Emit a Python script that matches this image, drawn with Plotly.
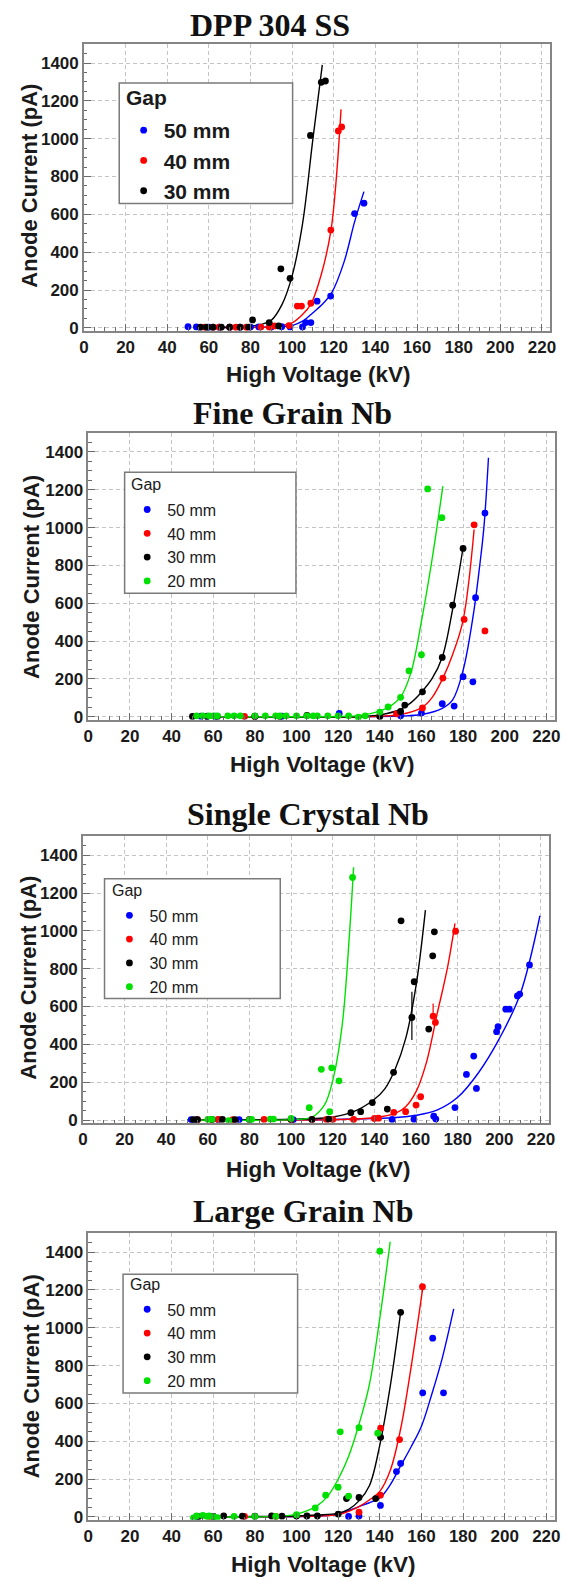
import plotly.graph_objects as go

W, H = 567, 1582

# ---------------- text ----------------
panel_titles = ["DPP 304 SS", "Fine Grain Nb", "Single Crystal Nb", "Large Grain Nb"]
gap_title = "Gap"
gap_names = ["50 mm", "40 mm", "30 mm", "20 mm"]
x_title = "High Voltage (kV)"
y_title = "Anode Current (pA)"
x_tick_vals = [0, 20, 40, 60, 80, 100, 120, 140, 160, 180, 200, 220]
y_tick_vals = [0, 200, 400, 600, 800, 1000, 1200, 1400]

# ---------------- DPP 304 SS ----------------
ss_50_v = [50, 54, 60, 65, 70, 75, 80, 84, 90, 95, 99, 105, 106.5, 109, 112, 118.5, 130, 134.5]
ss_50_i = [6, 5, 3, 3, 3, 3, 4, 5, 5, 6, 5, 5, 28, 28, 141, 168, 604, 659]
ss_40_v = [58, 62, 65, 70, 73, 78, 85, 89, 91.5, 98.5, 102.5, 104.5, 109, 118.6, 122.2, 123.8]
ss_40_i = [3, 3, 3, 3, 3, 3, 4, 4, 10, 12, 115, 115, 130, 517, 1041, 1062]
ss_30_v = [56, 59, 62, 66, 70, 75, 79, 81, 89, 93.5, 94.6, 99, 108.8, 114, 116]
ss_30_i = [3, 3, 3, 3, 3, 3, 4, 42, 28, 10, 312, 262, 1017, 1298, 1305]
ss_50_fit_v = [55, 90, 95, 100, 105, 110, 115, 119, 125, 130, 134.5]
ss_50_fit_i = [2, 4, 6, 12, 35, 80, 130, 185, 350, 560, 720]
ss_40_fit_v = [58, 90, 95, 100, 105, 109, 114, 118.6, 121, 123.5]
ss_40_fit_i = [2, 5, 12, 26, 70, 125, 282, 511, 760, 1155]
ss_30_fit_v = [55, 70, 80, 85, 90, 95, 100, 105, 110, 114.5]
ss_30_fit_i = [2, 4, 10, 18, 40, 120, 275, 550, 1000, 1390]

# ---------------- Fine Grain Nb ----------------
fg_50_v = [54, 57, 61, 80, 93, 120.5, 150, 160, 170, 175.7, 180, 184.7, 186, 190.5]
fg_50_i = [3, 3, 3, 3, 3, 18, 5, 20, 69, 57, 212, 185, 630, 1077]
fg_40_v = [75, 80, 140, 148, 160.5, 170.3, 180.5, 185.3, 190.5]
fg_40_i = [2, 2, 5, 16, 47, 205, 515, 1015, 454]
fg_30_v = [50, 57, 62, 80, 92, 105, 140, 150, 152, 160.5, 170, 175, 180]
fg_30_i = [2, 2, 2, 2, 2, 8, 2, 28, 62, 132, 314, 590, 890]
fg_20_v = [52, 55, 58, 60, 62, 67, 70, 73, 80, 85, 90, 92, 95, 100, 105, 108, 110, 115, 120, 125,
           129.7, 133, 140, 144, 150, 154, 160, 163, 169.8]
fg_20_i = [5, 5, 5, 5, 5, 5, 5, 5, 5, 5, 5, 5, 5, 5, 5, 5, 5, 5, 5, 5,
           -2, 5, 25, 52, 103, 243, 328, 1205, 1053]
fg_50_fit_v = [50, 150, 160, 170, 175, 180, 185, 188, 190, 192.2]
fg_50_fit_i = [1, 4, 12, 45, 90, 245, 545, 800, 1000, 1370]
fg_40_fit_v = [50, 140, 150, 160, 165, 170, 175, 180, 185.3]
fg_40_fit_i = [1, 3, 12, 47, 100, 198, 330, 510, 990]
fg_30_fit_v = [50, 130, 140, 150, 155, 160, 165, 170, 175, 180]
fg_30_fit_i = [1, 2, 10, 40, 75, 130, 200, 315, 570, 895]
fg_20_fit_v = [50, 120, 130, 140, 145, 150, 155, 160, 165, 170.3]
fg_20_fit_i = [1, 2, 6, 30, 55, 105, 235, 505, 825, 1220]

# ---------------- Single Crystal Nb ----------------
sc_50_v = [52, 54.5, 65, 75, 101, 148.5, 159, 168.5, 169.5, 178.7, 184.2, 187.7, 189, 198.7, 199.4,
           203.1, 204.8, 208.7, 209.8, 214.5]
sc_50_i = [2, 2, 2, 2, 2, 3, 4, 20, 5, 66, 241, 338, 167, 467, 493, 586, 586, 656, 666, 820]
sc_40_v = [55, 62, 65, 72, 80, 87, 100, 110, 117, 120, 130, 140, 142, 149.3, 155, 160, 162.2, 168.2, 169.3, 179]
sc_40_i = [2, 2, 3, 2, 3, 3, 2, 2, 3, 3, 3, 8, 10, 40, 44, 79, 123, 549, 516, 998]
sc_40_err_up = [0, 0, 0, 0, 0, 0, 0, 0, 0, 0, 0, 0, 0, 0, 0, 0, 0, 67, 0, 0]
sc_40_err_dn = [0, 0, 0, 0, 0, 0, 0, 0, 0, 0, 0, 0, 0, 0, 0, 0, 0, 0, 0, 0]
sc_30_v = [53, 55, 62, 67, 73, 80, 100, 110, 118, 128.7, 133.4, 139, 146.2, 149.2, 152.8, 158, 159.1,
           166.1, 168, 168.8]
sc_30_i = [2, 2, 3, 3, 2, 2, 3, 3, 5, 39, 44, 92, 58, 252, 1053, 542, 731, 481, 868, 995]
sc_30_err_up = [0, 0, 0, 0, 0, 0, 0, 0, 0, 0, 0, 0, 0, 0, 0, 136, 0, 0, 0, 0]
sc_30_err_dn = [0, 0, 0, 0, 0, 0, 0, 0, 0, 0, 0, 0, 0, 0, 0, 119, 0, 0, 0, 0]
sc_20_v = [60, 62, 70, 80, 81, 90, 91.5, 100, 108.7, 114.5, 118.5, 119.5, 123, 129.5]
sc_20_i = [3, 3, -3, 2, 3, 5, 5, 8, 65, 268, 44, 276, 207, 1282]
sc_50_fit_v = [50, 120, 140, 150, 160, 170, 180, 190, 200, 210, 219.5]
sc_50_fit_i = [1, 3, 8, 13, 25, 52, 120, 250, 430, 665, 1080]
sc_40_fit_v = [50, 120, 140, 150, 155, 160, 165, 170, 175, 178.7]
sc_40_fit_i = [1, 2, 12, 35, 70, 150, 305, 555, 800, 1040]
sc_30_fit_v = [50, 100, 120, 130, 140, 145, 150, 155, 160, 164.5]
sc_30_fit_i = [1, 4, 16, 44, 110, 165, 270, 430, 710, 1110]
sc_20_fit_v = [50, 100, 110, 116, 120, 124.5, 128, 130]
sc_20_fit_i = [1, 2, 15, 80, 210, 500, 980, 1336]

# ---------------- Large Grain Nb ----------------
lg_50_v = [52, 60, 125, 130, 140.3, 148, 150, 160.6, 165.4, 170.6]
lg_50_i = [3, 3, 3, 5, 61, 240, 283, 656, 945, 656]
lg_40_v = [58, 75, 90, 130, 140.3, 140.4, 149.5, 160.5]
lg_40_i = [3, 3, 3, 25, 115, 469, 409, 1217]
lg_30_v = [53, 60, 65, 74, 80, 88, 93, 100, 105, 110, 120, 124, 130, 138, 140.4, 150]
lg_30_i = [2, 3, 5, 4, 4, 5, 4, 5, 5, 5, 15, 97, 103, 97, 421, 1082]
lg_20_v = [50.5, 52, 55, 57, 58, 60, 62, 70, 80, 90, 100, 109, 114, 120, 121, 125, 130, 139, 140]
lg_20_i = [-5, 5, 8, 3, 5, 2, -3, 3, 3, 3, 12, 48, 115, 157, 450, 110, 472, 443, 1405]
lg_50_fit_v = [50, 110, 120, 130, 135, 140, 145, 150, 155, 160, 165, 170, 175.5]
lg_50_fit_i = [1, 5, 15, 55, 75, 100, 170, 270, 370, 480, 650, 840, 1100]
lg_40_fit_v = [50, 110, 120, 130, 135, 140, 145, 150, 155, 160.5]
lg_40_fit_i = [1, 5, 12, 55, 90, 135, 245, 465, 790, 1200]
lg_30_fit_v = [50, 100, 110, 120, 125, 130, 135, 140, 145, 150]
lg_30_fit_i = [1, 5, 10, 20, 40, 85, 165, 380, 690, 1082]
lg_20_fit_v = [50, 90, 100, 110, 115, 120, 125, 130, 135, 140, 145]
lg_20_fit_i = [1, 3, 15, 60, 110, 200, 320, 490, 700, 1050, 1455]

panels = [
    [("50 mm", ss_50_v, ss_50_i, ss_50_fit_v, ss_50_fit_i, None, None),
     ("40 mm", ss_40_v, ss_40_i, ss_40_fit_v, ss_40_fit_i, None, None),
     ("30 mm", ss_30_v, ss_30_i, ss_30_fit_v, ss_30_fit_i, None, None)],
    [("50 mm", fg_50_v, fg_50_i, fg_50_fit_v, fg_50_fit_i, None, None),
     ("40 mm", fg_40_v, fg_40_i, fg_40_fit_v, fg_40_fit_i, None, None),
     ("30 mm", fg_30_v, fg_30_i, fg_30_fit_v, fg_30_fit_i, None, None),
     ("20 mm", fg_20_v, fg_20_i, fg_20_fit_v, fg_20_fit_i, None, None)],
    [("50 mm", sc_50_v, sc_50_i, sc_50_fit_v, sc_50_fit_i, None, None),
     ("40 mm", sc_40_v, sc_40_i, sc_40_fit_v, sc_40_fit_i, sc_40_err_up, sc_40_err_dn),
     ("30 mm", sc_30_v, sc_30_i, sc_30_fit_v, sc_30_fit_i, sc_30_err_up, sc_30_err_dn),
     ("20 mm", sc_20_v, sc_20_i, sc_20_fit_v, sc_20_fit_i, None, None)],
    [("50 mm", lg_50_v, lg_50_i, lg_50_fit_v, lg_50_fit_i, None, None),
     ("40 mm", lg_40_v, lg_40_i, lg_40_fit_v, lg_40_fit_i, None, None),
     ("30 mm", lg_30_v, lg_30_i, lg_30_fit_v, lg_30_fit_i, None, None),
     ("20 mm", lg_20_v, lg_20_i, lg_20_fit_v, lg_20_fit_i, None, None)],
]

# ---------------- styling / geometry (pixels) ----------------
colors = {"50 mm": "#0000ff", "40 mm": "#ff0000", "30 mm": "#000000", "20 mm": "#00e000"}
X_RANGE = [0, 224]
Y_RANGE = [-15, 1500]
PX_KV = 2.123
PX_PA = 0.19
geo = [
    dict(x0=80.5, y0=329.3, box=(116.5, 83.3, 293.3, 204.3), leg=(121, 110.5), lfs=21, lbold=True,
         gap=(121, 98, 21), title=(270, 25), xt=(320, 376.5), yt=(25, 187)),
    dict(x0=85, y0=720, box=(122, 474.3, 296.7, 596), leg=(124.6, 494.8), lfs=16, lbold=False,
         gap=(126, 487, 16), title=(293, 415), xt=(323.5, 768), yt=(27, 579)),
    dict(x0=79.5, y0=1125, box=(101.5, 882.7, 280.7, 1003), leg=(106.5, 902.4), lfs=16, lbold=False,
         gap=(107.5, 894, 16), title=(309, 818), xt=(320, 1174.5), yt=(24, 982.5)),
    dict(x0=85, y0=1523.7, box=(120.4, 1279.8, 298.4, 1399.3), leg=(124.6, 1298.1), lfs=16, lbold=False,
         gap=(125.5, 1290, 16), title=(304, 1216.5), xt=(324.5, 1571), yt=(27, 1382)),
]

SANS = "Liberation Sans, Arial, Helvetica, sans-serif"
SERIF = "Liberation Serif, Times New Roman, serif"

fig = go.Figure()
layout = dict(width=W, height=H, margin=dict(l=0, r=0, t=0, b=0),
              paper_bgcolor="white", plot_bgcolor="white", showlegend=True)
shapes, annotations = [], []

for p, (series, g) in enumerate(zip(panels, geo)):
    k = "" if p == 0 else str(p + 1)
    xa, ya = "x" + k, "y" + k
    lg = "legend" + k
    for name, v, i, fv, fi, eu, ed in series:
        c = colors[name]
        fig.add_trace(go.Scatter(x=fv, y=fi, mode="lines", xaxis=xa, yaxis=ya,
                                 line=dict(color=c, width=1.4, shape="spline", smoothing=1.0),
                                 showlegend=False, hoverinfo="skip"))
    for name, v, i, fv, fi, eu, ed in series:
        c = colors[name]
        err = None
        if eu is not None:
            err = dict(type="data", symmetric=False, array=eu, arrayminus=ed,
                       color=c, thickness=1.2, width=0)
        fig.add_trace(go.Scatter(x=v, y=i, mode="markers", name=name, xaxis=xa, yaxis=ya,
                                 legend=lg, error_y=err,
                                 marker=dict(color=c, size=6.8, symbol="circle", line=dict(width=0))))

    xl = g["x0"]
    xr = g["x0"] + (X_RANGE[1] - X_RANGE[0]) * PX_KV
    yb = g["y0"] - Y_RANGE[0] * PX_PA
    yt = g["y0"] - Y_RANGE[1] * PX_PA
    common = dict(showline=True, mirror=True, linecolor="#858585", linewidth=1.5,
                  ticks="inside", ticklen=7, tickwidth=1, tickcolor="#6a6a6a",
                  showgrid=True, gridcolor="#c4c4c4", griddash="4px,3px", gridwidth=1,
                  zeroline=False, fixedrange=True,
                  tickfont=dict(family=SANS, size=17, color="#1a1a1a", weight="bold"))
    layout["xaxis" + k] = dict(common, domain=[xl / W, xr / W], range=X_RANGE, anchor=ya,
                               tickmode="array", tickvals=x_tick_vals,
                               minor=dict(ticks="inside", ticklen=3.5, tickcolor="#6a6a6a",
                                          dtick=5, tick0=0, showgrid=False))
    layout["yaxis" + k] = dict(common, domain=[1 - yb / H, 1 - yt / H], range=Y_RANGE, anchor=xa,
                               tickmode="array", tickvals=y_tick_vals,
                               minor=dict(ticks="inside", ticklen=3.5, tickcolor="#6a6a6a",
                                          dtick=50, tick0=0, showgrid=False))
    bx0, by0, bx1, by1 = g["box"]
    shapes.append(dict(type="rect", xref="paper", yref="paper", layer="above",
                       x0=bx0 / W, x1=bx1 / W, y0=1 - by1 / H, y1=1 - by0 / H,
                       line=dict(color="#7a7a7a", width=1.5), fillcolor="white"))
    layout[lg] = dict(x=g["leg"][0] / W, y=1 - g["leg"][1] / H, xanchor="left", yanchor="top",
                      bgcolor="rgba(0,0,0,0)", borderwidth=0, tracegroupgap=0,
                      font=dict(family=SANS, size=g["lfs"], color="#1a1a1a",
                                weight="bold" if g["lbold"] else "normal"))
    gx, gy, gfs = g["gap"]
    annotations.append(dict(text=gap_title, x=gx / W, y=1 - gy / H, xref="paper", yref="paper",
                            xanchor="left", yanchor="middle", showarrow=False,
                            font=dict(family=SANS, size=gfs, color="#1a1a1a",
                                      weight="bold" if g["lbold"] else "normal")))
    tx, ty = g["title"]
    annotations.append(dict(text=panel_titles[p], x=tx / W, y=1 - ty / H, xref="paper", yref="paper",
                            xanchor="center", yanchor="middle", showarrow=False,
                            font=dict(family=SERIF, size=32, color="#111111", weight="bold")))
    xtx, xty = g["xt"]
    annotations.append(dict(text=x_title, x=xtx / W, y=1 - xty / H, xref="paper", yref="paper",
                            xanchor="center", yanchor="middle", showarrow=False,
                            font=dict(family=SANS, size=22.5, color="#1a1a1a", weight="bold")))
    ytx, yty = g["yt"]
    annotations.append(dict(text=y_title, x=ytx / W, y=1 - yty / H, xref="paper", yref="paper",
                            xanchor="center", yanchor="middle", showarrow=False, textangle=-90,
                            font=dict(family=SANS, size=22, color="#1a1a1a", weight="bold")))

layout["shapes"] = shapes
layout["annotations"] = annotations
fig.update_layout(**layout)
fig.write_html("out.html", config={"displayModeBar": False},
               post_script="document.body.style.margin='0';document.body.style.overflow='hidden';")
